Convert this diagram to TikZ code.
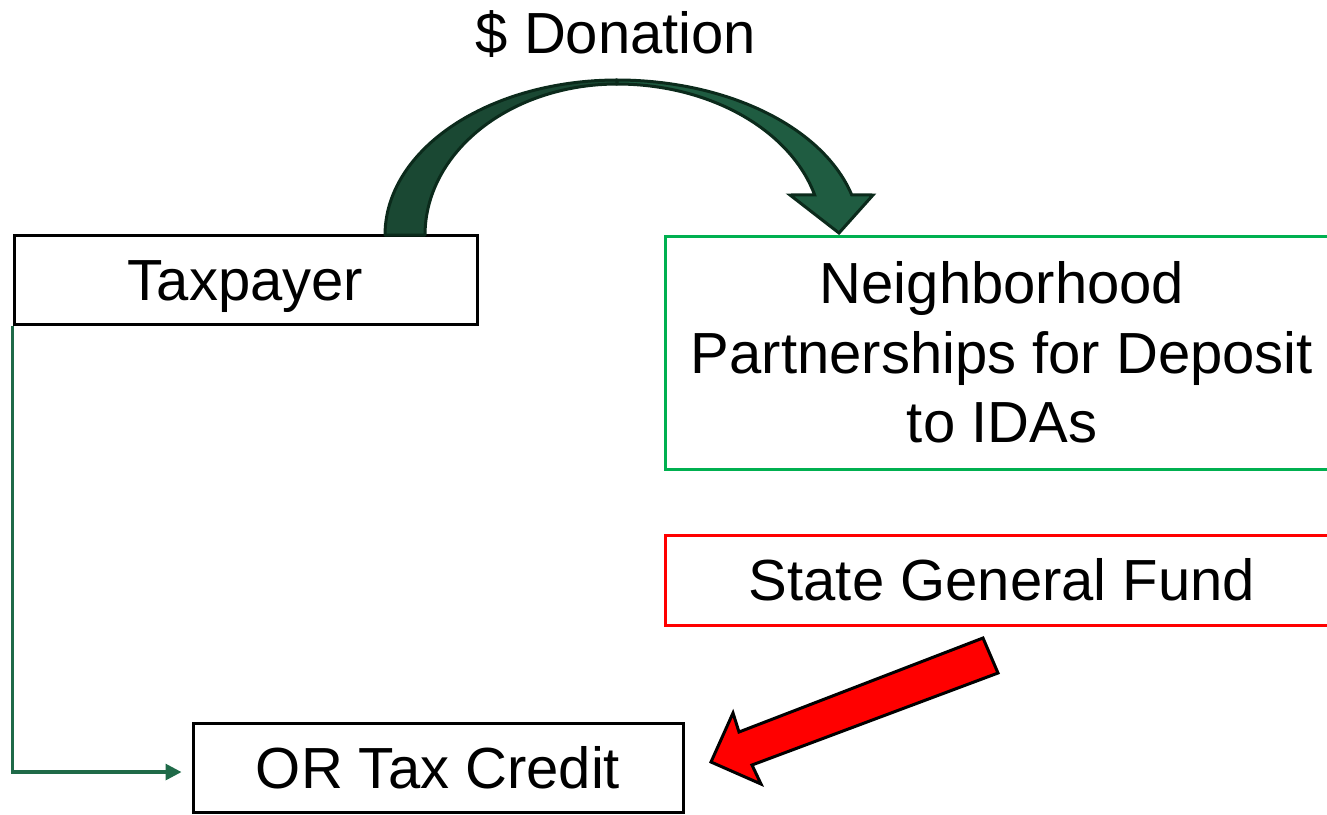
\documentclass[tikz,border=0pt]{standalone}
\usepackage{fontspec}
\setmainfont{Liberation Sans}
\usetikzlibrary{arrows.meta}
\definecolor{boxgreen}{HTML}{00B050}
\definecolor{boxred}{HTML}{FF0000}
\definecolor{linkgreen}{HTML}{1F6A48}
\definecolor{arrowback}{HTML}{1A4833}
\definecolor{arrowfront}{HTML}{1F5C41}
\definecolor{arrowedge}{HTML}{0B2A1B}
\begin{document}
\begin{tikzpicture}[x=0.75pt,y=-0.75pt,
  bigtext/.style={font=\fontsize{43.5}{52.2}\selectfont, text height=31.1pt, text depth=0pt, inner sep=0pt},
  box/.style={bigtext, draw, line width=2.25pt, align=center},
  link/.style={draw=linkgreen, line width=2.4pt, -{Triangle[length=12pt,width=12pt]}},
  bandedge/.style={draw=arrowedge, line width=2.25pt, line join=round},
  blockarrow/.style={draw=black, fill=boxred, line width=2.25pt, line join=miter}]
\clip (0,0) rectangle (1327,814);
\node[box, minimum width=347.25pt, minimum height=66.75pt] (tax) at (245.5,280) {Taxpayer};
\node[box, draw=boxgreen, minimum width=505.5pt, minimum height=174.75pt, text height=135.5pt, text depth=0pt] (nbh) at (1002,352.5) {Neighborhood\\Partnerships for Deposit\\to IDAs};
\node[box, draw=boxred, minimum width=505.5pt, minimum height=67.5pt] (sgf) at (1002,580) {State General Fund};
\node[box, minimum width=367.5pt, minimum height=66.75pt] (orc) at (438,767.5) {OR Tax Credit};
\node[bigtext] (don) at (616,32.5) {\$ Donation};
% connector taxpayer -> tax credit
\draw[link, shorten >=7.5pt] (tax.south west) |- ([yshift=-3.4pt]orc.west);
% curved donation arrow
\filldraw[bandedge, fill=arrowback]
  plot[domain=180:90, samples=50, variable=\t] ({617+232*cos(\t)},{235-155*sin(\t)})
  -- plot[domain=90:180, samples=50, variable=\t] ({617+192*cos(\t)},{235-151*sin(\t)}) -- cycle;
\filldraw[bandedge, fill=arrowfront, line join=miter]
  plot[domain=90:15, samples=50, variable=\t] ({617+243*cos(\t)},{235-155*sin(\t)})
  -- (873,195) -- (839,233) -- (790,195)
  -- plot[domain=15.4:90, samples=50, variable=\t] ({617+205*cos(\t)},{235-151*sin(\t)}) -- cycle;
% red block arrow
\draw[blockarrow] (983,638) -- (998,673) -- (752,765) -- (761,784) -- (711,762) -- (733,713) -- (739,732) -- cycle;
\end{tikzpicture}
\end{document}
